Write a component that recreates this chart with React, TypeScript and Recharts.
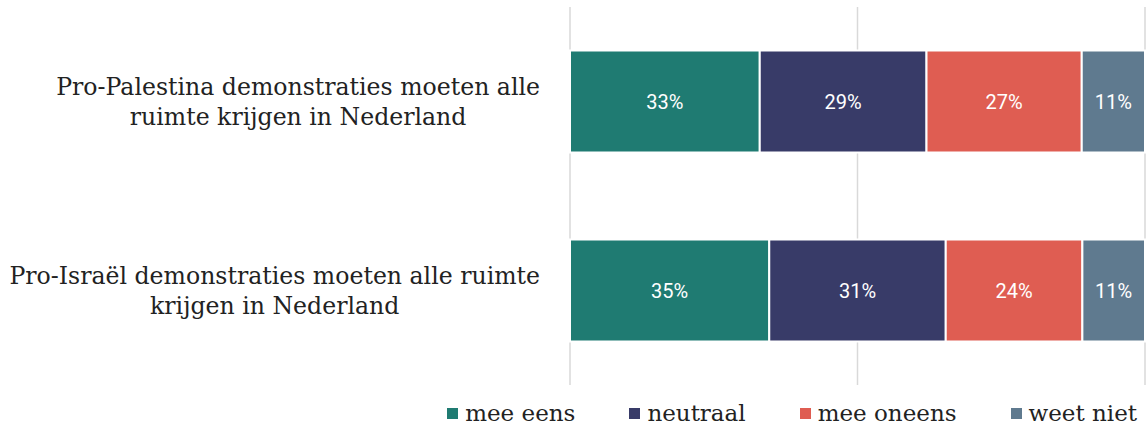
import { BarChart, Bar, XAxis, YAxis, CartesianGrid, Legend, LabelList } from 'recharts';

const statements = [
  'Pro-Palestina demonstraties moeten alle ruimte krijgen in Nederland',
  'Pro-Israël demonstraties moeten alle ruimte krijgen in Nederland',
];
// how the labels break in the original
const statementLines = [
  ['Pro-Palestina demonstraties moeten alle', 'ruimte krijgen in Nederland'],
  ['Pro-Israël demonstraties moeten alle ruimte', 'krijgen in Nederland'],
];
const meeEens = [33, 35];
const neutraal = [29, 31];
const meeOneens = [27, 24];
const weetNiet = [11, 11];

const series = [
  { key: 'meeEens', name: 'mee eens', color: '#1f7b72' },
  { key: 'neutraal', name: 'neutraal', color: '#383b68' },
  { key: 'meeOneens', name: 'mee oneens', color: '#df5d52' },
  { key: 'weetNiet', name: 'weet niet', color: '#5f7a8f' },
];

const data = statements.map((s, i) => ({
  statement: s,
  meeEens: meeEens[i],
  neutraal: neutraal[i],
  meeOneens: meeOneens[i],
  weetNiet: weetNiet[i],
}));

const SERIF = '"DejaVu Serif", serif';
const LABEL_SIZE = 23.6;

function measure(text: string, font: string) {
  const c = document.createElement('canvas').getContext('2d');
  if (!c) return text.length * 12;
  c.font = font;
  return c.measureText(text).width;
}

function StatementTick(props: any) {
  const { x, y, payload } = props;
  const idx = statements.indexOf(payload.value);
  const lines = statementLines[idx] || [payload.value];
  const font = `${LABEL_SIZE}px "DejaVu Serif"`;
  const widest = Math.max(...lines.map(l => measure(l, font)));
  const right = x - 22;
  const cx = right - widest / 2;
  const lh = 30;
  const startY = y - ((lines.length - 1) * lh) / 2;
  return (
    <text x={cx} y={startY} textAnchor="middle" dominantBaseline="central" fill="#222" fontFamily={SERIF} fontSize={LABEL_SIZE}>
      {lines.map((l, i) => (
        <tspan key={i} x={cx} y={startY + i * lh}>
          {l}
        </tspan>
      ))}
    </text>
  );
}

function LegendContent() {
  return (
    <div
      style={{
        display: 'flex',
        justifyContent: 'flex-end',
        gap: 54,
        paddingRight: 8,
        height: 30,
        lineHeight: '30px',
        fontFamily: SERIF,
        fontSize: 23,
        color: '#222',
      }}
    >
      {series.map(s => (
        <div key={s.key} style={{ display: 'flex', alignItems: 'center' }}>
          <span style={{ width: 11, height: 11, background: s.color, marginRight: 7, display: 'inline-block' }} />
          <span>{s.name}</span>
        </div>
      ))}
    </div>
  );
}

export default function App() {
  return (
    <div style={{ width: 1146, height: 428, background: '#fff', overflow: 'hidden' }}>
      <style>{'body { margin: 0; overflow: hidden; }'}</style>
      <BarChart
        width={1146}
        height={428}
        data={data}
        layout="vertical"
        stackOffset="expand"
        barCategoryGap="23%"
        margin={{ top: 7, right: 1, left: 0, bottom: 13 }}
      >
        <CartesianGrid horizontal={false} stroke="#d9d9d9" strokeWidth={1.5} />
        <XAxis type="number" domain={[0, 1]} ticks={[0, 0.5, 1]} hide />
        <YAxis
          type="category"
          dataKey="statement"
          width={570}
          axisLine={false}
          tickLine={false}
          tick={<StatementTick />}
        />
        <Legend verticalAlign="bottom" content={<LegendContent />} wrapperStyle={{ bottom: 0 }} />
        {series.map(s => (
          <Bar key={s.key} dataKey={s.key} name={s.name} stackId="a" fill={s.color} stroke="#fff" strokeWidth={2} isAnimationActive={false}>
            <LabelList
              dataKey={s.key}
              position="center"
              fill="#fff"
              fontFamily="Roboto, sans-serif"
              fontSize={20}
              formatter={(v: any) => `${v}%`}
            />
          </Bar>
        ))}
      </BarChart>
    </div>
  );
}
